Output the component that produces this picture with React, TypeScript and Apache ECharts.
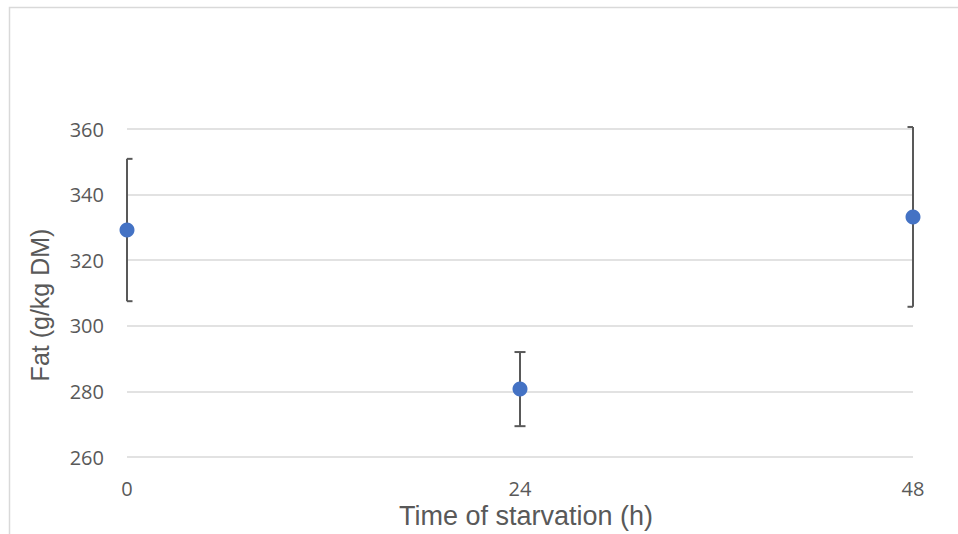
import React, { useEffect, useRef } from "react";
import * as echarts from "echarts";

const xValues = [0, 24, 48];
const fatMeans = [329.2, 280.7, 333.2];
const fatErrors = [21.7, 11.3, 27.4];
const xTitle = "Time of starvation (h)";
const yTitle = "Fat (g/kg DM)";

export default function App() {
  const ref = useRef<HTMLDivElement>(null);
  useEffect(() => {
    if (!ref.current) return;
    const chart = echarts.init(ref.current, null, { renderer: "svg" });
    const points = xValues.map((x, i) => [x, fatMeans[i]]);
    const bars = xValues.map((x, i) => [x, fatMeans[i] - fatErrors[i], fatMeans[i] + fatErrors[i]]);
    chart.setOption({
      animation: false,
      backgroundColor: "#ffffff",
      graphic: [
        {
          type: "rect",
          left: 7,
          top: 5,
          shape: { width: 1000, height: 600 },
          style: { fill: "none", stroke: "#d9d9d9", lineWidth: 1.5 },
          silent: true,
        },
      ],
      grid: { left: 127, right: 45, top: 129, bottom: 77, containLabel: false, outerBoundsMode: "none" },
      xAxis: {
        type: "value",
        min: 0,
        max: 48,
        interval: 24,
        name: xTitle,
        nameLocation: "middle",
        nameGap: 44,
        nameTextStyle: { fontFamily: "Liberation Sans", fontSize: 27, color: "#595959", padding: [0, 0, 0, 12] },
        axisLine: { show: false },
        axisTick: { show: false },
        splitLine: { show: false },
        axisLabel: { fontFamily: "Open Sans", fontSize: 20, color: "#595959", margin: 21 },
      },
      yAxis: {
        type: "value",
        min: 260,
        max: 360,
        interval: 20,
        name: yTitle,
        nameLocation: "middle",
        nameGap: 75,
        nameTextStyle: { fontFamily: "Liberation Sans", fontSize: 25, color: "#595959", padding: [0, 24, 0, 0] },
        axisLine: { show: false },
        axisTick: { show: false },
        splitLine: { show: true, lineStyle: { color: "#d9d9d9", width: 1.5 } },
        axisLabel: { fontFamily: "Open Sans", fontSize: 20, color: "#595959", margin: 23 },
      },
      series: [
        {
          type: "custom",
          clip: false,
          z: 1,
          data: bars,
          renderItem: (params: any, api: any) => {
            const x = api.value(0);
            const lo = api.coord([x, api.value(1)]);
            const hi = api.coord([x, api.value(2)]);
            const cs = params.coordSys;
            const w = 5.5;
            const left = Math.max(cs.x, lo[0] - w);
            const right = Math.min(cs.x + cs.width, lo[0] + w);
            const style = { stroke: "#595959", lineWidth: 2 };
            return {
              type: "group",
              children: [
                { type: "line", shape: { x1: lo[0], y1: lo[1], x2: hi[0], y2: hi[1] }, style },
                { type: "line", shape: { x1: left, y1: hi[1], x2: right, y2: hi[1] }, style },
                { type: "line", shape: { x1: left, y1: lo[1], x2: right, y2: lo[1] }, style },
              ],
            };
          },
        },
        {
          type: "scatter",
          z: 3,
          symbol: "circle",
          symbolSize: 15,
          itemStyle: { color: "#4472C4", opacity: 1 },
          clip: false,
          data: points,
        },
      ],
    });
    return () => chart.dispose();
  }, []);
  return <div ref={ref} style={{ position: "fixed", left: 0, top: 0, width: 958, height: 534 }} />;
}
